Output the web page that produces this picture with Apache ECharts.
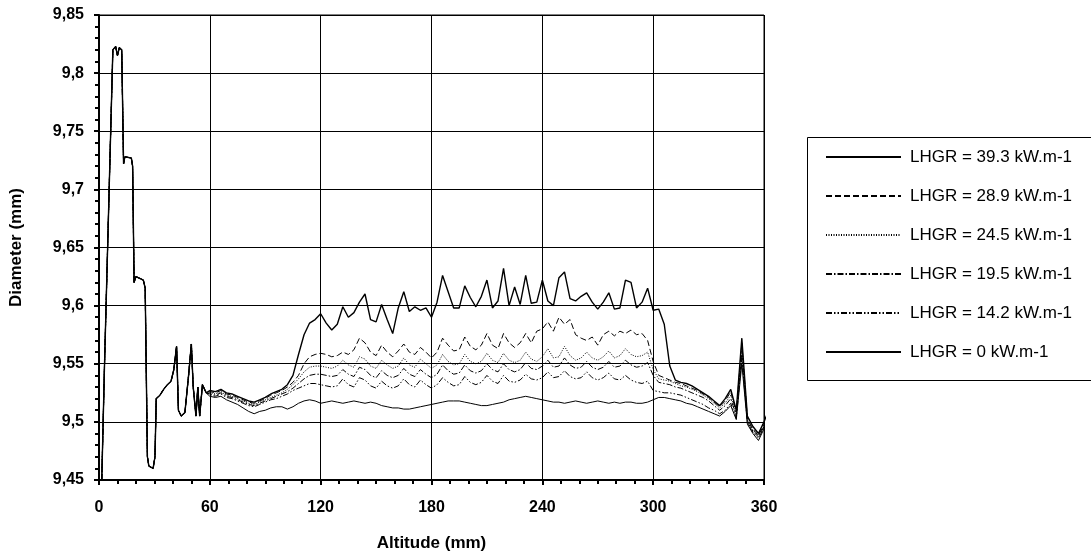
<!DOCTYPE html>
<html>
<head>
<meta charset="utf-8">
<script src="https://cdn.jsdelivr.net/npm/echarts@6/dist/echarts.min.js"></script>
<style>
  html,body{margin:0;padding:0;background:#fff;}
  #chart{width:1091px;height:557px;}
</style>
</head>
<body>
<div id="chart"></div>
<script>
// shared start of the profile (0-60 mm), all runs overlap there
const altStart = [1.5, 3, 5.5, 7.5, 9, 10, 11, 12.3, 13.3, 14, 17.5, 18.2, 19, 20, 24, 25, 26.2, 27, 29.3, 30.3,
  31, 33, 35, 37, 39, 40.5, 42, 43, 44.5, 46.5, 48.5, 50, 51, 52.5, 53.5, 54.5, 56, 58]
const diaStart = [9.45, 9.55, 9.70, 9.82, 9.823, 9.815, 9.822, 9.82, 9.722, 9.728, 9.727, 9.72, 9.62, 9.625, 9.622, 9.615, 9.47, 9.462, 9.46, 9.47,
  9.52, 9.523, 9.528, 9.532, 9.535, 9.545, 9.565, 9.51, 9.505, 9.508, 9.54, 9.567, 9.53, 9.505, 9.53, 9.505, 9.532, 9.525]

// altitude (mm) for the rest of the profile
const altitude = [
  60, 63, 66, 69, 72, 75, 78, 81, 84, 87,
  90, 93, 96, 99, 102, 105, 108, 111, 114, 117,
  120, 123, 126, 129, 132, 135, 138, 141, 144, 147,
  150, 153, 156, 159, 162, 165, 168, 171, 174, 177,
  180, 183, 186, 189, 192, 195, 198, 201, 204, 207,
  210, 213, 216, 219, 222, 225, 228, 231, 234, 237,
  240, 243, 246, 249, 252, 255, 258, 261, 264, 267,
  270, 273, 276, 279, 282, 285, 288, 291, 294, 297,
  300, 303, 306, 309, 312, 315, 318, 321, 324, 327,
  330, 333, 336, 339, 342, 345, 348, 351, 354, 357,
  360, 362]

const lhgr393 = [
  9.527, 9.526, 9.528, 9.525, 9.524, 9.522, 9.520, 9.518, 9.517, 9.519,
  9.521, 9.524, 9.526, 9.528, 9.532, 9.540, 9.558, 9.575, 9.585, 9.588,
  9.593, 9.585, 9.579, 9.584, 9.599, 9.590, 9.594, 9.603, 9.610, 9.588,
  9.586, 9.601, 9.588, 9.576, 9.598, 9.612, 9.595, 9.599, 9.596, 9.598,
  9.590, 9.603, 9.626, 9.612, 9.598, 9.598, 9.617, 9.607, 9.599, 9.608,
  9.622, 9.598, 9.604, 9.632, 9.600, 9.616, 9.601, 9.626, 9.602, 9.603,
  9.622, 9.604, 9.600, 9.624, 9.629, 9.606, 9.604, 9.608, 9.611, 9.603,
  9.597, 9.603, 9.611, 9.597, 9.598, 9.622, 9.620, 9.598, 9.603, 9.615,
  9.596, 9.597, 9.584, 9.548, 9.536, 9.534, 9.533, 9.531, 9.528, 9.525,
  9.522, 9.518, 9.514, 9.520, 9.528, 9.510, 9.572, 9.505, 9.496, 9.490,
  9.500, 9.508]

const lhgr289 = [
  9.526, 9.525, 9.527, 9.524, 9.523, 9.521, 9.519, 9.517, 9.516, 9.518,
  9.520, 9.523, 9.525, 9.527, 9.530, 9.534, 9.540, 9.550, 9.556, 9.558,
  9.559, 9.558, 9.556, 9.557, 9.560, 9.558, 9.562, 9.572, 9.568, 9.560,
  9.557, 9.566, 9.560, 9.556, 9.561, 9.567, 9.560, 9.558, 9.564, 9.560,
  9.555, 9.560, 9.572, 9.566, 9.561, 9.562, 9.573, 9.565, 9.562, 9.566,
  9.576, 9.566, 9.563, 9.576, 9.568, 9.564, 9.568, 9.576, 9.568, 9.578,
  9.580, 9.586, 9.578, 9.590, 9.584, 9.588, 9.575, 9.572, 9.570, 9.573,
  9.566, 9.575, 9.578, 9.574, 9.578, 9.576, 9.579, 9.575, 9.576, 9.570,
  9.552, 9.540, 9.538, 9.536, 9.534, 9.533, 9.531, 9.529, 9.527, 9.524,
  9.521, 9.517, 9.513, 9.518, 9.526, 9.508, 9.568, 9.503, 9.494, 9.488,
  9.498, 9.506]

const lhgr245 = [
  9.525, 9.524, 9.526, 9.523, 9.522, 9.520, 9.518, 9.516, 9.515, 9.517,
  9.519, 9.521, 9.523, 9.525, 9.528, 9.532, 9.537, 9.543, 9.547, 9.548,
  9.548, 9.547, 9.546, 9.548, 9.553, 9.549, 9.547, 9.556, 9.554, 9.548,
  9.546, 9.553, 9.549, 9.546, 9.548, 9.555, 9.549, 9.547, 9.554, 9.550,
  9.546, 9.549, 9.558, 9.552, 9.549, 9.550, 9.558, 9.552, 9.550, 9.552,
  9.559, 9.553, 9.551, 9.559, 9.553, 9.551, 9.553, 9.560, 9.554, 9.552,
  9.556, 9.563, 9.555, 9.556, 9.565, 9.557, 9.553, 9.555, 9.560, 9.555,
  9.553, 9.556, 9.561, 9.555, 9.557, 9.563, 9.558, 9.556, 9.557, 9.560,
  9.545, 9.537, 9.536, 9.535, 9.533, 9.531, 9.530, 9.528, 9.526, 9.523,
  9.520, 9.516, 9.512, 9.516, 9.523, 9.506, 9.565, 9.502, 9.493, 9.489,
  9.497, 9.505]

const lhgr195 = [
  9.524, 9.523, 9.525, 9.522, 9.521, 9.519, 9.517, 9.515, 9.514, 9.516,
  9.518, 9.520, 9.522, 9.524, 9.526, 9.529, 9.533, 9.537, 9.540, 9.541,
  9.541, 9.540, 9.539, 9.540, 9.545, 9.541, 9.539, 9.547, 9.545, 9.540,
  9.538, 9.544, 9.540, 9.538, 9.540, 9.546, 9.541, 9.539, 9.545, 9.541,
  9.538, 9.541, 9.549, 9.544, 9.541, 9.542, 9.549, 9.544, 9.542, 9.544,
  9.550, 9.545, 9.543, 9.550, 9.545, 9.543, 9.545, 9.551, 9.546, 9.545,
  9.548, 9.553, 9.547, 9.548, 9.555, 9.549, 9.546, 9.547, 9.552, 9.547,
  9.545, 9.547, 9.552, 9.547, 9.548, 9.553, 9.549, 9.547, 9.548, 9.551,
  9.540, 9.534, 9.533, 9.532, 9.530, 9.529, 9.527, 9.525, 9.523, 9.521,
  9.518, 9.514, 9.510, 9.514, 9.520, 9.505, 9.560, 9.500, 9.492, 9.487,
  9.496, 9.504]

const lhgr142 = [
  9.523, 9.522, 9.524, 9.521, 9.520, 9.518, 9.516, 9.514, 9.513, 9.515,
  9.517, 9.519, 9.520, 9.522, 9.524, 9.527, 9.529, 9.531, 9.533, 9.533,
  9.532, 9.531, 9.530, 9.531, 9.537, 9.532, 9.530, 9.538, 9.536, 9.531,
  9.529, 9.535, 9.531, 9.529, 9.531, 9.537, 9.532, 9.530, 9.536, 9.532,
  9.529, 9.532, 9.538, 9.534, 9.531, 9.532, 9.539, 9.534, 9.532, 9.534,
  9.540, 9.535, 9.533, 9.540, 9.535, 9.534, 9.536, 9.541, 9.537, 9.536,
  9.538, 9.543, 9.538, 9.539, 9.544, 9.539, 9.537, 9.538, 9.543, 9.538,
  9.536, 9.538, 9.542, 9.537, 9.536, 9.540, 9.536, 9.534, 9.533, 9.535,
  9.527, 9.526, 9.525, 9.525, 9.524, 9.523, 9.521, 9.519, 9.517, 9.515,
  9.512, 9.510, 9.507, 9.510, 9.516, 9.503, 9.555, 9.499, 9.491, 9.486,
  9.495, 9.503]

const lhgr0 = [
  9.522, 9.521, 9.522, 9.519, 9.517, 9.515, 9.512, 9.509, 9.507, 9.509,
  9.510, 9.512, 9.513, 9.513, 9.511, 9.513, 9.516, 9.518, 9.519, 9.518,
  9.516, 9.517, 9.518, 9.517, 9.516, 9.517, 9.518, 9.517, 9.516, 9.517,
  9.516, 9.514, 9.513, 9.512, 9.512, 9.511, 9.511, 9.512, 9.513, 9.514,
  9.515, 9.516, 9.517, 9.518, 9.518, 9.518, 9.517, 9.516, 9.515, 9.514,
  9.514, 9.515, 9.516, 9.517, 9.519, 9.520, 9.521, 9.522, 9.521, 9.520,
  9.519, 9.518, 9.517, 9.517, 9.516, 9.517, 9.518, 9.517, 9.516, 9.517,
  9.518, 9.517, 9.516, 9.517, 9.516, 9.517, 9.517, 9.516, 9.516, 9.517,
  9.519, 9.521, 9.521, 9.520, 9.519, 9.518, 9.516, 9.515, 9.513, 9.511,
  9.509, 9.507, 9.505, 9.509, 9.514, 9.502, 9.550, 9.498, 9.490, 9.484,
  9.494, 9.502]

const runNames = ['LHGR = 39.3 kW.m-1', 'LHGR = 28.9 kW.m-1', 'LHGR = 24.5 kW.m-1',
  'LHGR = 19.5 kW.m-1', 'LHGR = 14.2 kW.m-1', 'LHGR = 0 kW.m-1']
const runValues = [lhgr393, lhgr289, lhgr245, lhgr195, lhgr142, lhgr0]
const runDash = ['solid', [6, 3], [1, 1.5], [6, 2, 1.5, 2], [6, 2, 1.5, 2, 1.5, 2], 'solid']
const runWidth = [1.4, 1, 1, 1, 1, 1]

const xTicks = [0, 60, 120, 180, 240, 300, 360]

const font = "'Liberation Sans', Arial, sans-serif"

function buildPoints(vals){
  const xs = altStart.concat(altitude)
  const ys = diaStart.concat(vals)
  return xs.map((x, i) => [x, ys[i]])
}

const chart = echarts.init(document.getElementById('chart'))

chart.setOption({
  backgroundColor: '#fff',
  animation: false,
  grid: {
    left: 98, right: 327, top: 15, bottom: 77,
    show: true, borderColor: '#000', borderWidth: 1
  },
  legend: {
    orient: 'vertical',
    left: 820, top: 143,
    itemWidth: 75, itemHeight: 14, itemGap: 21,
    data: runNames,
    itemStyle: { opacity: 0 },
    textStyle: { fontFamily: font, fontSize: 17, lineHeight: 18, color: '#000', padding: [0, 0, 0, 4] }
  },
  graphic: [{
    type: 'rect',
    left: 805, top: 135,
    shape: { width: 300, height: 243 },
    style: { fill: 'none', stroke: '#000', lineWidth: 1 }
  }],
  xAxis: {
    type: 'value',
    min: xTicks[0], max: xTicks[xTicks.length - 1], interval: 60,
    name: 'Altitude (mm)',
    nameLocation: 'middle', nameGap: 55,
    nameTextStyle: { fontFamily: font, fontSize: 17, fontWeight: 'bold', color: '#000' },
    axisLine: { show: true, lineStyle: { color: '#000', width: 2 } },
    axisTick: { show: true, length: 5, lineStyle: { color: '#000', width: 2 } },
    minorTick: { show: true, splitNumber: 6, length: 4, lineStyle: { color: '#000', width: 2 } },
    axisLabel: { fontFamily: font, fontSize: 16, fontWeight: 'bold', color: '#000', margin: 20 },
    splitLine: { show: true, lineStyle: { color: '#000', width: 1 } }
  },
  yAxis: {
    type: 'value',
    min: 9.45, max: 9.85, interval: 0.05,
    name: 'Diameter (mm)',
    nameLocation: 'middle', nameGap: 74, nameRotate: 90,
    nameTextStyle: { fontFamily: font, fontSize: 17, fontWeight: 'bold', color: '#000' },
    axisLine: { show: true, lineStyle: { color: '#000', width: 2 } },
    axisTick: { show: true, length: 5, lineStyle: { color: '#000', width: 2 } },
    minorTick: { show: true, splitNumber: 5, length: 4, lineStyle: { color: '#000', width: 2 } },
    axisLabel: {
      fontFamily: font, fontSize: 16, fontWeight: 'bold', color: '#000', margin: 15,
      formatter: v => String(+v.toFixed(2)).replace('.', ',')
    },
    splitLine: { show: true, lineStyle: { color: '#000', width: 1 } }
  },
  series: runNames.map((name, i) => ({
    name: name,
    type: 'line',
    symbol: 'none',
    data: buildPoints(runValues[i]),
    lineStyle: { color: '#000', width: runWidth[i], type: runDash[i] },
    itemStyle: { color: '#000' },
    z: 10 - i
  }))
})
</script>
</body>
</html>
